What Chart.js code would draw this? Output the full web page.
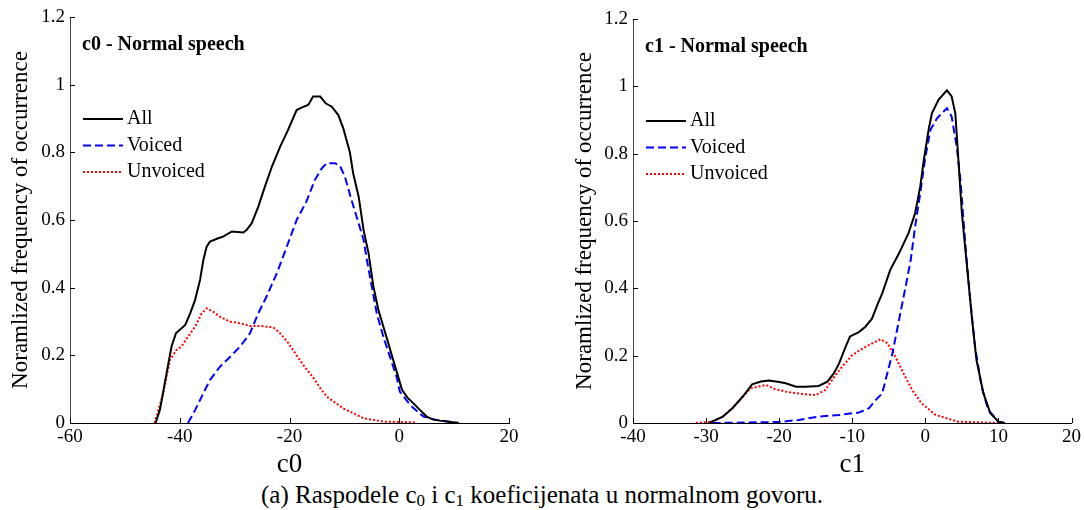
<!DOCTYPE html>
<html>
<head>
<meta charset="utf-8">
<script src="https://cdn.jsdelivr.net/npm/chart.js@4.4.1/dist/chart.umd.min.js"></script>
<style>
  body { margin: 0; background: #fff; width: 1084px; height: 510px; position: relative; overflow: hidden; }
  .panel { position: absolute; top: 0; width: 542px; height: 480px; }
  #caption { position: absolute; left: 0; top: 481px; width: 1084px; text-align: center;
    font: 25px "Liberation Serif", serif; line-height: 28px; color: #000; }
  #caption sub { font-size: 17px; vertical-align: -3px; line-height: 0; }
</style>
</head>
<body>
<div class="panel" style="left:0"><canvas id="c0chart"></canvas></div>
<div class="panel" style="left:542px"><canvas id="c1chart"></canvas></div>
<div id="caption">(a) Raspodele c<sub>0</sub> i c<sub>1</sub> koeficijenata u normalnom govoru.</div>

<script>
// c0 - normal speech
const c0AllX = [-44.4, -43.6, -42.4, -41.5, -40.7, -39.0, -38.1, -37.2, -36.3, -35.7, -35.1, -34.5, -33.0, -32.1, -30.5, -28.4, -27.8, -26.9, -25.7, -24.5, -23.2, -21.7, -20.3, -18.7, -17.8, -16.6, -15.7, -14.4, -13.4, -12.3, -11.1, -10.2, -9.0, -8.4, -7.4, -6.5, -5.6, -4.7, -3.8, -2.9, -2.0, -1.1, -0.2, 0.5, 1.5, 2.6, 3.8, 5.0, 6.2, 7.4, 9.0, 10.8];
const c0AllY = [0, 0.04, 0.147, 0.226, 0.265, 0.29, 0.324, 0.364, 0.423, 0.482, 0.521, 0.536, 0.546, 0.551, 0.566, 0.563, 0.571, 0.59, 0.639, 0.698, 0.758, 0.817, 0.865, 0.925, 0.932, 0.94, 0.965, 0.965, 0.945, 0.935, 0.91, 0.871, 0.80, 0.738, 0.669, 0.57, 0.502, 0.403, 0.334, 0.285, 0.236, 0.186, 0.137, 0.098, 0.075, 0.058, 0.038, 0.019, 0.01, 0.007, 0.004, 0];
const c0VoicedX = [-38.5, -37.2, -36.0, -34.5, -32.7, -30.8, -29.0, -27.2, -25.7, -24.2, -22.3, -20.5, -18.7, -16.9, -15.4, -14.1, -13.2, -11.7, -10.8, -9.9, -8.7, -7.4, -6.5, -5.9, -5.0, -4.1, -2.9, -1.7, -0.5, 0.1, 2.0, 4.4, 6.8, 8.5, 10.8];
const c0VoicedY = [0, 0.038, 0.078, 0.127, 0.166, 0.196, 0.226, 0.265, 0.324, 0.373, 0.443, 0.521, 0.60, 0.655, 0.718, 0.753, 0.768, 0.768, 0.76, 0.728, 0.659, 0.59, 0.541, 0.482, 0.403, 0.324, 0.255, 0.196, 0.137, 0.093, 0.053, 0.019, 0.009, 0.005, 0];
const c0UnvoicedX = [-44.6, -43.0, -41.8, -40.6, -39.7, -38.5, -37.2, -36.0, -35.1, -33.9, -32.7, -30.8, -29.0, -27.2, -25.4, -22.9, -21.7, -20.2, -18.7, -17.2, -15.7, -14.4, -13.2, -10.2, -6.5, -2.9, 2.8];
const c0UnvoicedY = [0, 0.088, 0.186, 0.216, 0.226, 0.255, 0.285, 0.324, 0.339, 0.329, 0.314, 0.299, 0.295, 0.287, 0.287, 0.282, 0.265, 0.236, 0.2, 0.165, 0.135, 0.103, 0.078, 0.043, 0.014, 0.004, 0.002];

// c1 - normal speech
const c1AllX = [-29.6, -27.7, -26.4, -25.0, -23.7, -22.5, -21.4, -20.0, -19.1, -17.7, -16.4, -14.6, -13.4, -12.5, -11.8, -10.9, -10.3, -9.1, -8.2, -7.3, -6.4, -5.9, -4.8, -3.6, -2.3, -1.4, -0.7, -0.2, 0.45, 0.9, 1.8, 2.95, 3.6, 4.1, 4.5, 5.0, 5.7, 6.4, 7.0, 7.95, 8.9, 10.0, 10.9];
const c1AllY = [0, 0.019, 0.044, 0.078, 0.115, 0.123, 0.126, 0.122, 0.118, 0.108, 0.108, 0.110, 0.123, 0.148, 0.177, 0.227, 0.257, 0.27, 0.286, 0.31, 0.36, 0.385, 0.455, 0.504, 0.564, 0.623, 0.702, 0.782, 0.871, 0.92, 0.96, 0.988, 0.97, 0.92, 0.79, 0.623, 0.465, 0.306, 0.187, 0.088, 0.029, 0.004, 0];
const c1VoicedX = [-29.1, -20.0, -17.3, -14.6, -11.8, -9.1, -7.7, -6.8, -5.9, -5.2, -4.5, -3.6, -2.7, -2.0, -1.4, -0.7, 0, 0.7, 1.6, 2.5, 2.95, 3.6, 4.3, 4.8, 5.5, 6.1, 6.8, 7.7, 8.6, 10.0, 10.9];
const c1VoicedY = [0, 0.003, 0.009, 0.019, 0.024, 0.031, 0.044, 0.068, 0.088, 0.148, 0.207, 0.306, 0.405, 0.484, 0.583, 0.682, 0.79, 0.871, 0.905, 0.925, 0.935, 0.91, 0.82, 0.722, 0.524, 0.375, 0.227, 0.108, 0.039, 0.004, 0];
const c1UnvoicedX = [-31.4, -29.1, -27.7, -26.4, -25.0, -23.9, -21.8, -20.5, -18.6, -16.8, -15.0, -13.7, -12.6, -11.4, -10.0, -8.9, -7.7, -6.1, -5.2, -4.1, -3.0, -1.8, -0.5, 1.4, 4.5, 10.0];
const c1UnvoicedY = [0, 0.004, 0.02, 0.044, 0.078, 0.103, 0.113, 0.10, 0.091, 0.086, 0.083, 0.098, 0.133, 0.167, 0.202, 0.217, 0.232, 0.249, 0.237, 0.197, 0.148, 0.098, 0.058, 0.024, 0.004, 0];

const seriesNames = ['All', 'Voiced', 'Unvoiced'];
const yLabel = 'Noramlized frequency of occurrence';

Chart.defaults.font.family = '"Liberation Serif", serif';
Chart.defaults.color = '#000';

const pts = (xs, ys) => xs.map((x, i) => ({ x: x, y: ys[i] }));

// inward tick marks, panel title and the legend inside the axes
const annotate = {
  id: 'annotate',
  afterDraw(chart, args, opts) {
    const { ctx, chartArea: a, scales: { x, y } } = chart;
    ctx.save();
    ctx.strokeStyle = '#000';
    ctx.lineWidth = 1;
    ctx.beginPath();
    x.ticks.forEach(t => {
      const px = Math.round(x.getPixelForValue(t.value)) + 0.5;
      ctx.moveTo(px, a.bottom);
      ctx.lineTo(px, a.bottom - 5);
    });
    y.ticks.forEach(t => {
      const py = Math.round(y.getPixelForValue(t.value)) + 0.5;
      ctx.moveTo(a.left, py);
      ctx.lineTo(a.left + 5, py);
    });
    ctx.stroke();

    ctx.fillStyle = '#000';
    ctx.textBaseline = 'middle';
    ctx.font = 'bold 20px "Liberation Serif"';
    ctx.fillText(opts.title, a.left + 12, a.top + 28);

    ctx.font = '20px "Liberation Serif"';
    chart.data.datasets.forEach((ds, i) => {
      const yy = a.top + 102 + i * 26.5;
      ctx.save();
      ctx.strokeStyle = ds.borderColor;
      ctx.lineWidth = ds.borderWidth;
      ctx.setLineDash(ds.borderDash || []);
      ctx.beginPath();
      ctx.moveTo(a.left + 13, yy);
      ctx.lineTo(a.left + 53, yy);
      ctx.stroke();
      ctx.restore();
      ctx.fillText(ds.label, a.left + 57, yy);
    });
    ctx.restore();
  }
};

function makeChart(id, cfg) {
  return new Chart(document.getElementById(id), {
    type: 'line',
    data: {
      datasets: [
        { label: seriesNames[0], data: cfg.all, borderColor: '#000000', borderWidth: 2 },
        { label: seriesNames[1], data: cfg.voiced, borderColor: '#0000ff', borderWidth: 2, borderDash: [8, 4] },
        { label: seriesNames[2], data: cfg.unvoiced, borderColor: '#ff0000', borderWidth: 2, borderDash: [2, 2] }
      ]
    },
    options: {
      responsive: true,
      maintainAspectRatio: false,
      animation: false,
      devicePixelRatio: 1,
      elements: { point: { radius: 0 }, line: { tension: 0, fill: false } },
      layout: { padding: { left: 0, right: cfg.padRight, top: cfg.padTop, bottom: 0 } },
      plugins: {
        legend: { display: false },
        tooltip: { enabled: false },
        annotate: { title: cfg.title }
      },
      scales: {
        x: {
          type: 'linear',
          min: cfg.xMin, max: cfg.xMax,
          ticks: { stepSize: cfg.xStep, font: { size: 19 }, padding: 3, maxRotation: 0, autoSkip: false },
          grid: { display: false, drawTicks: false },
          border: { display: true, color: '#000', width: 1 },
          title: { display: true, text: cfg.xTitle, font: { size: 27, lineHeight: 1 }, padding: { top: 0, bottom: 1.5 } },
          afterFit: s => { s.height = 57; }
        },
        y: {
          min: 0, max: 1.2,
          ticks: { stepSize: 0.2, font: { size: 19 }, padding: 5, callback: v => String(+v.toFixed(1)) },
          grid: { display: false, drawTicks: false },
          border: { display: true, color: '#444', width: 1 },
          title: { display: true, text: yLabel, font: { size: 23, lineHeight: 1 }, padding: { top: cfg.yTitlePad, bottom: 0 } },
          afterFit: s => { s.width = cfg.yWidth; }
        }
      }
    },
    plugins: [annotate]
  });
}

makeChart('c0chart', {
  all: pts(c0AllX, c0AllY), voiced: pts(c0VoicedX, c0VoicedY), unvoiced: pts(c0UnvoicedX, c0UnvoicedY),
  xMin: -60, xMax: 20, xStep: 20, xTitle: 'c0', title: 'c0 - Normal speech',
  yWidth: 70, yTitlePad: 9, padRight: 33, padTop: 17
});

makeChart('c1chart', {
  all: pts(c1AllX, c1AllY), voiced: pts(c1VoicedX, c1VoicedY), unvoiced: pts(c1UnvoicedX, c1UnvoicedY),
  xMin: -40, xMax: 20, xStep: 10, xTitle: 'c1', title: 'c1 - Normal speech',
  yWidth: 91, yTitlePad: 31, padRight: 11, padTop: 19
});
</script>
</body>
</html>
